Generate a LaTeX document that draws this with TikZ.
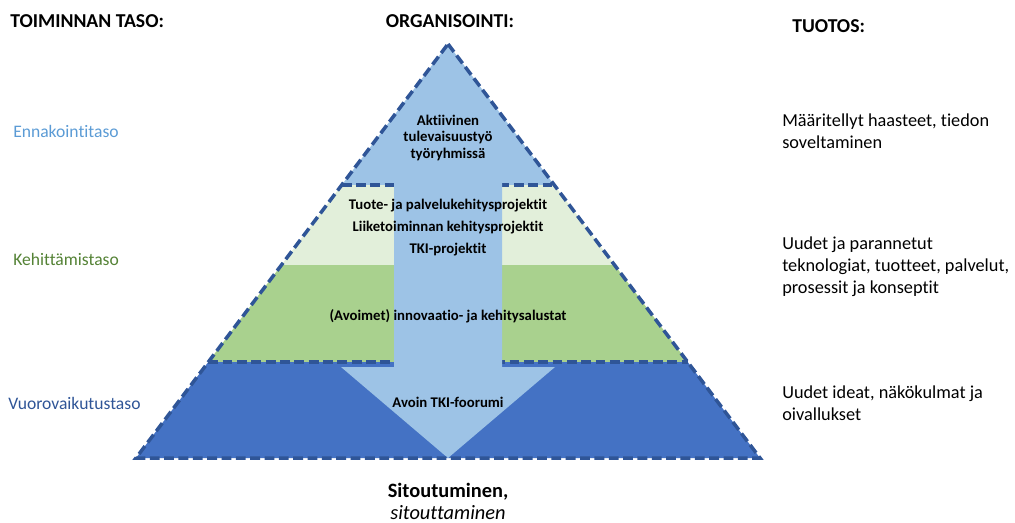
\documentclass[tikz,border=0pt]{standalone}
\usepackage{fontspec}
\setmainfont[Ligatures=NoCommon]{Carlito}
\definecolor{skyblue}{HTML}{9DC3E6}
\definecolor{palegreen}{HTML}{E2EFDA}
\definecolor{midgreen}{HTML}{A9D18E}
\definecolor{deepblue}{HTML}{4472C4}
\definecolor{edgeblue}{HTML}{2F5597}
\definecolor{lvlgreen}{HTML}{548235}
\definecolor{lvlblue}{HTML}{5B9BD5}
\begin{document}
\begin{tikzpicture}[x=0.025cm,y=-0.025cm,
    pyredge/.style={draw=edgeblue,line width=2.5pt,dash pattern=on 7pt off 3.2pt},
    headtxt/.style={font=\fontsize{14}{17}\selectfont\bfseries,inner sep=0},
    lvltxt/.style={font=\fontsize{12.5}{15}\selectfont,inner sep=0,anchor=base west},
    outtxt/.style={font=\fontsize{13}{15.3}\selectfont,inner sep=0,anchor=base west,align=left},
    intxt/.style={font=\fontsize{10.5}{11.7}\selectfont\bfseries,inner sep=0,anchor=base,align=center}]
        \useasboundingbox (0,0) rectangle (1015,522);
        \fill[skyblue] (448,44) -- (554.3,185) -- (341.7,185) -- cycle;
        \fill[palegreen] (341.7,185) -- (554.3,185) -- (614.6,265) -- (281.4,265) -- cycle;
        \fill[midgreen] (281.4,265) -- (614.6,265) -- (687.7,362) -- (208.3,362) -- cycle;
        \fill[deepblue] (208.3,362) -- (687.7,362) -- (760,458) -- (136,458) -- cycle;
        \draw[pyredge] (341.7,185) -- (554.3,185);
        \draw[pyredge] (208.3,362) -- (687.7,362);
        \fill[skyblue] (394,180) -- (502,180) -- (502,367) -- (555,367) -- (448,458)
            -- (341,367) -- (394,367) -- cycle;
        \draw[pyredge] (448,44) -- (760,458) -- (136,458) -- cycle;
        \node[headtxt,anchor=base west] (hdlevel) at (10,27) {TOIMINNAN TASO:};
        \node[headtxt,anchor=base] (hdorg) at (450,27) {ORGANISOINTI:};
        \node[headtxt,anchor=base west] (hdout) at (792,32) {TUOTOS:};
        \node[lvltxt,text=lvlblue] (lvlfore) at (13,137) {Ennakointitaso};
        \node[lvltxt,text=lvlgreen] (lvldev) at (13,265) {Kehittämistaso};
        \node[lvltxt,text=edgeblue] (lvlint) at (8,409) {Vuorovaikutustaso};
        \node[outtxt] (outfore) at (782,148) {Määritellyt haasteet, tiedon\\soveltaminen};
        \node[outtxt] (outdev) at (782,293) {Uudet ja parannetut\\teknologiat, tuotteet, palvelut,\\prosessit ja konseptit};
        \node[outtxt] (outint) at (782,420) {Uudet ideat, näkökulmat ja\\oivallukset};
        \node[intxt] (txtwork) at (448,158) {Aktiivinen\\tulevaisuustyö\\työryhmissä};
        \node[intxt,font=\fontsize{10.5}{15.6}\selectfont\bfseries] (txtproj) at (448,253)
            {Tuote- ja palvelukehitysprojektit\\Liiketoiminnan kehitysprojektit\\TKI-projektit};
        \node[intxt] (txtplat) at (448,320) {(Avoimet) innovaatio- ja kehitysalustat};
        \node[intxt] (txtforum) at (448,407) {Avoin TKI-foorumi};
        \node[headtxt,anchor=base,align=center,font=\fontsize{14.5}{15}\selectfont] (txtcommit) at (448,519)
            {\textbf{Sitoutuminen,}\\\textit{sitouttaminen}};
    \end{tikzpicture}
\end{document}
